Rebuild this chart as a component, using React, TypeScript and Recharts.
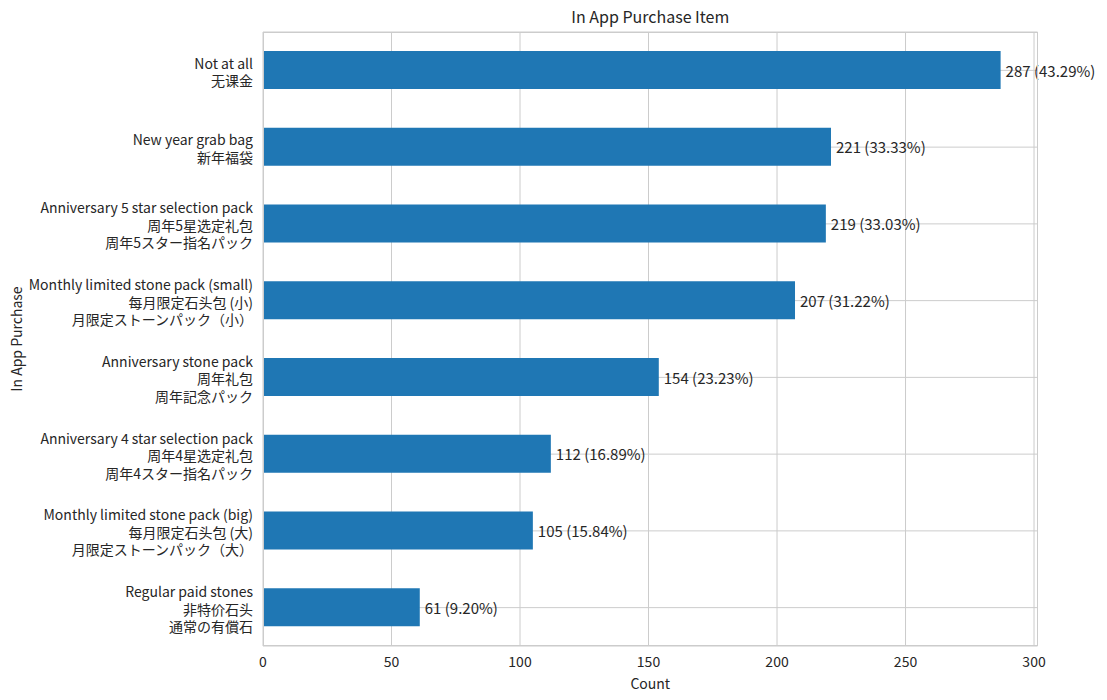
import React from 'react';
import { BarChart, Bar, XAxis, YAxis, CartesianGrid, LabelList } from 'recharts';

const FONT = '"Noto Sans CJK JP", "Noto Sans CJK SC", sans-serif';
const TEXT = '#262626';
const GRID = '#cccccc';

const categories = [
  'Not at all\n无课金',
  'New year grab bag\n新年福袋',
  'Anniversary 5 star selection pack\n周年5星选定礼包\n周年5スター指名パック',
  'Monthly limited stone pack (small)\n每月限定石头包 (小)\n月限定ストーンパック（小）',
  'Anniversary stone pack\n周年礼包\n周年記念パック',
  'Anniversary 4 star selection pack\n周年4星选定礼包\n周年4スター指名パック',
  'Monthly limited stone pack (big)\n每月限定石头包 (大)\n月限定ストーンパック（大）',
  'Regular paid stones\n非特价石头\n通常の有償石',
];
const counts = [287, 221, 219, 207, 154, 112, 105, 61];
const percents = ['43.29%', '33.33%', '33.03%', '31.22%', '23.23%', '16.89%', '15.84%', '9.20%'];
const xTicks = [0, 50, 100, 150, 200, 250, 300];

const data = categories.map((name, i) => ({
  name,
  count: counts[i],
  label: `${counts[i]} (${percents[i]})`,
}));

const W = 1107;
const H = 700;
const M = { top: 32, right: 69.5, bottom: 0, left: 0 };
const Y_W = 263;
const X_H = 54;

function CategoryTick(props: any) {
  const { y, payload } = props;
  const lines = String(payload.value).split('\n');
  const lh = 17.5;
  const x = Y_W - 10;
  const start = y - ((lines.length - 1) * lh) / 2 + 1;
  return (
    <text x={x} y={start} textAnchor="end" fontSize={14} fontFamily={FONT} fill={TEXT}>
      {lines.map((l, i) => (
        <tspan key={i} x={x} y={start + i * lh} dominantBaseline="central">
          {l}
        </tspan>
      ))}
    </text>
  );
}

function XTick(props: any) {
  const { x, payload } = props;
  return (
    <text x={x} y={661} textAnchor="middle" dominantBaseline="central" fontSize={14} fontFamily={FONT} fill={TEXT}>
      {payload.value}
    </text>
  );
}

function ValueLabel(props: any) {
  const { x, y, width, height, value } = props;
  return (
    <text
      x={x + width + 5}
      y={y + height / 2}
      dominantBaseline="central"
      fontSize={15}
      fontFamily={FONT}
      fill={TEXT}
    >
      {value}
    </text>
  );
}

export default function App() {
  const plotW = W - Y_W - M.right;
  const plotH = H - M.top - X_H;
  return (
    <div style={{ position: 'absolute', left: 0, top: 0, width: W, height: H, background: '#fff' }}>
      <div
        style={{
          position: 'absolute',
          left: Y_W,
          width: plotW,
          top: 4,
          textAlign: 'center',
          fontFamily: FONT,
          fontSize: 16,
          color: TEXT,
        }}
      >
        In App Purchase Item
      </div>
      <BarChart width={W} height={H} data={data} layout="vertical" margin={M}>
        <CartesianGrid stroke={GRID} strokeWidth={1} />
        <XAxis
          type="number"
          dataKey="count"
          domain={[0, 301.35]}
          ticks={xTicks}
          allowDataOverflow
          height={X_H}
          axisLine={false}
          tickLine={false}
          tick={<XTick />}
          label={{ value: 'Count', position: 'insideBottom', offset: 11, fontSize: 14, fontFamily: FONT, fill: TEXT }}
        />
        <YAxis
          type="category"
          dataKey="name"
          width={Y_W}
          axisLine={false}
          tickLine={false}
          interval={0}
          tick={<CategoryTick />}
          label={{
            value: 'In App Purchase',
            angle: -90,
            position: 'insideLeft',
            offset: 17,
            style: { textAnchor: 'middle' },
            fontSize: 14,
            fontFamily: FONT,
            fill: TEXT,
          }}
        />
        <Bar dataKey="count" fill="#1f77b4" barSize={38} isAnimationActive={false}>
          <LabelList dataKey="label" content={<ValueLabel />} />
        </Bar>
      </BarChart>
      <div
        style={{
          position: 'absolute',
          left: Y_W,
          top: M.top,
          width: plotW,
          height: plotH,
          boxSizing: 'border-box',
          border: `1px solid ${GRID}`,
          pointerEvents: 'none',
        }}
      />
    </div>
  );
}
